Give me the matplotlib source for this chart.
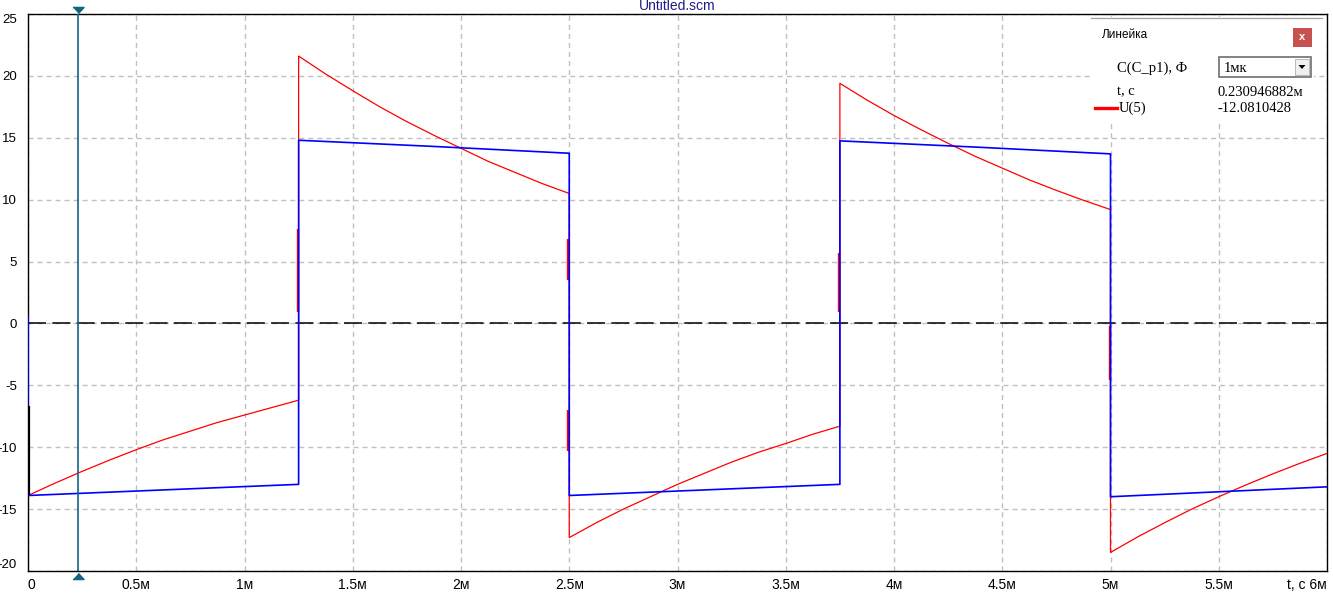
import matplotlib
matplotlib.use("Agg")
import matplotlib.pyplot as plt
import matplotlib.transforms as mtransforms
from matplotlib.patches import Rectangle, Polygon
from matplotlib.lines import Line2D

plt.rcParams['font.family'] = ['Liberation Sans', 'DejaVu Sans']
plt.rcParams['axes.unicode_minus'] = False
plt.rcParams['lines.scale_dashes'] = False

# time axis in ms
seg_start = [0.0, 1.25, 2.5, 3.75, 5.0]
seg_offset = [0.0, 0.125, 0.25, 0.375, 0.5, 0.625, 0.75, 0.875, 1.0, 1.125, 1.25]

# U(5), red trace, read per half period
red_seg1 = [-13.9, -12.9, -11.95, -11.05, -10.2, -9.4, -8.7, -8.0, -7.4, -6.8, -6.2]
red_seg2 = [21.6, 20.15, 18.8, 17.5, 16.3, 15.2, 14.15, 13.1, 12.2, 11.3, 10.5]
red_seg3 = [-17.3, -16.1, -15.0, -14.0, -13.0, -12.1, -11.2, -10.4, -9.7, -8.95, -8.3]
red_seg4 = [19.4, 18.05, 16.8, 15.65, 14.55, 13.5, 12.55, 11.6, 10.75, 9.95, 9.2]
red_seg5 = [-18.5, -17.25, -16.1, -15.0, -14.0, -13.05, -12.15, -11.3, -10.5]

# blue trace (square wave)
blue_t = [0.0, 0.0, 0.625, 1.25, 1.25, 1.875, 2.5, 2.5, 3.125, 3.75, 3.75, 4.375, 5.0, 5.0, 5.5, 6.0]
blue_v = [0.6, -13.9, -13.45, -13.0, 14.8, 14.3, 13.75, -13.9, -13.45, -13.0, 14.75, 14.25, 13.7, -14.0, -13.6, -13.2]

# short red pieces seen next to the blue edges
blip_t = [1.25, 2.5, 2.5, 3.75, 5.0]
blip_lo = [0.9, 3.5, -10.3, 0.9, -4.6]
blip_hi = [7.6, 6.8, -7.0, 5.7, -0.2]

# black piece at t=0
black_lo, black_hi = -13.9, -6.7

cursor_t = 0.230946882
cursor_val = "-12.0810428"

xticks = [0, 0.5, 1, 1.5, 2, 2.5, 3, 3.5, 4, 4.5, 5, 5.5, 6]
xlabels = ['0', '0.5м', '1м', '1.5м', '2м', '2.5м', '3м', '3.5м', '4м', '4.5м', '5м', '5.5м', 't, с 6м']
yticks = [-20, -15, -10, -5, 0, 5, 10, 15, 20, 25]

W, H = 1333, 595
fig = plt.figure(figsize=(W / 100, H / 100), dpi=100)
ax = fig.add_axes([28 / W, 1 - 571 / H, (1327 - 28) / W, (571 - 14) / H])


def fx(x):
    return x / W


def fy(y):
    return 1 - y / H


red_t = []
red_v = []
segs = [red_seg1, red_seg2, red_seg3, red_seg4, red_seg5]
for s0, seg in zip(seg_start, segs):
    for off, v in zip(seg_offset, seg):
        red_t.append(s0 + off)
        red_v.append(v)

ax.plot(red_t, red_v, color='#ff0000', lw=0.9, zorder=3)
for t, lo, hi in zip(blip_t, blip_lo, blip_hi):
    ax.plot([t - 0.004, t - 0.004], [lo, hi], color='#ff0000', lw=1.7, zorder=3.5,
            solid_capstyle='butt')
ax.plot(blue_t, blue_v, color='#0000ff', lw=1.2, zorder=4)
ax.plot([0.003, 0.003], [black_lo, black_hi], color='black', lw=1.6, zorder=4.5,
        solid_capstyle='butt')

ax.axhline(0, color='black', lw=1.1, dashes=(13, 4.5), zorder=2)

# cursor
cur_col = '#0e6585'
ax.axvline(cursor_t, color=cur_col, lw=1.2, zorder=5)
trans = mtransforms.blended_transform_factory(ax.transData, ax.transAxes)
tri_down = [(-1, 0.55), (1, 0.55), (0, -0.55)]
tri_up = [(-1, -0.55), (1, -0.55), (0, 0.55)]
ax.plot([cursor_t], [1.0072], marker=tri_down, ms=8, color=cur_col,
        transform=trans, clip_on=False, zorder=6)
ax.plot([cursor_t], [-0.009], marker=tri_up, ms=8, color=cur_col,
        transform=trans, clip_on=False, zorder=6)

ax.set_xlim(0, 6)
ax.set_ylim(-20, 25)
ax.set_xticks(xticks)
ax.set_xticklabels(xlabels, fontsize=10)
ax.set_yticks(yticks)
ax.set_yticklabels([str(v) for v in yticks], fontsize=9.5)
ax.tick_params(length=0, pad=5)
ax.tick_params(axis='y', pad=8)
xl = ax.get_xticklabels()
xl[0].set_ha('left')
xl[-1].set_ha('right')
yl = ax.get_yticklabels()
yl[0].set_va('bottom')
yl[-1].set_va('top')

ax.set_axisbelow(True)
ax.grid(True, color='#c0c0c0', lw=1.0, dashes=(3.6, 2.9))
for sp in ax.spines.values():
    sp.set_color('black')
    sp.set_linewidth(1.0)

fig.text(0.508, fy(6.5), 'Untitled.scm', color='#1c1c8a', fontsize=10,
         ha='center', va='center')

# ruler panel
fig.add_artist(Rectangle((fx(1091), fy(120)), fx(1314 - 1091), 103 / H,
                         transform=fig.transFigure, facecolor='white', edgecolor='none', zorder=10))
fig.add_artist(Line2D([fx(1091), fx(1322)], [fy(17.5), fy(17.5)], transform=fig.transFigure,
                      color='#a0a0a0', lw=0.9, zorder=11))
fig.text(fx(1102), fy(35), 'Линейка', fontsize=8.5, ha='left', va='center', zorder=11)
fig.add_artist(Rectangle((fx(1293), fy(47)), fx(19), 19 / H, transform=fig.transFigure,
                         facecolor='#c75050', edgecolor='none', zorder=11))
fig.text(fx(1302.5), fy(37.5), 'x', color='white', fontsize=8, fontweight='bold',
         ha='center', va='center', zorder=12)

serif = ['Liberation Serif', 'DejaVu Serif']
fig.text(fx(1117), fy(68), 'C(C_p1), Ф', family=serif, fontsize=10.5, ha='left', va='center', zorder=11)
# combobox
fig.add_artist(Rectangle((fx(1219), fy(77)), fx(92), 20 / H, transform=fig.transFigure,
                         facecolor='white', edgecolor='#6e6e6e', lw=1.2, zorder=11))
fig.add_artist(Rectangle((fx(1295), fy(75)), fx(14), 16 / H, transform=fig.transFigure,
                         facecolor='#f0f0f0', edgecolor='#b0b0b0', lw=0.6, zorder=12))
fig.add_artist(Polygon([(fx(1298.5), fy(65)), (fx(1305.5), fy(65)), (fx(1302), fy(69))],
                       closed=True, transform=fig.transFigure, facecolor='black',
                       edgecolor='none', zorder=13))
fig.text(fx(1224), fy(68), '1мк', family=serif, fontsize=10.5, ha='left', va='center', zorder=12)

fig.text(fx(1117), fy(92), 't, с', family=serif, fontsize=10.5, ha='left', va='center', zorder=11)
fig.text(fx(1218), fy(92), '%.9fм' % cursor_t, family=serif, fontsize=10.5, ha='left', va='center', zorder=11)
fig.add_artist(Line2D([fx(1095), fx(1117)], [fy(108), fy(108)], transform=fig.transFigure,
                      color='#ff0000', lw=2.4, zorder=11))
fig.text(fx(1119), fy(108), 'U(5)', family=serif, fontsize=10.5, ha='left', va='center', zorder=11)
fig.text(fx(1218), fy(108), cursor_val, family=serif, fontsize=10.5, ha='left', va='center', zorder=11)

fig.savefig('out.png', dpi=100)
